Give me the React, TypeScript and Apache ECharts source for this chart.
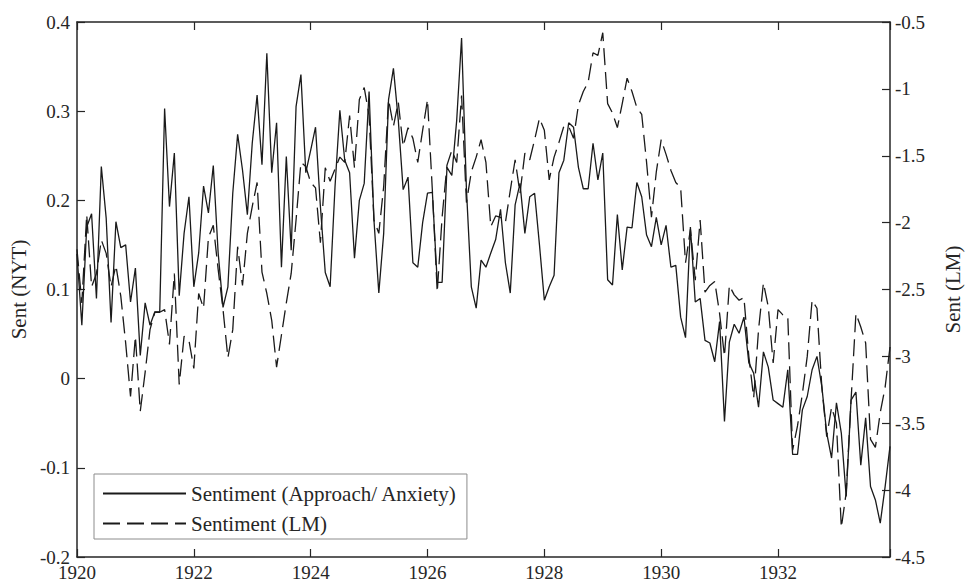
import React, { useEffect, useRef } from "react";
import * as echarts from "echarts";

const START_YEAR = 1920;
const X_TICKS = [1920, 1922, 1924, 1926, 1928, 1930, 1932];

// Monthly sentiment, Jan 1920 .. Dec 1933 (NYT Approach/Anxiety, left axis)
const sentNYT: number[] = [
  0.14, 0.06, 0.17, 0.185, 0.09, 0.238, 0.18, 0.063, 0.176, 0.147, 0.15, 0.086,
  0.124, 0.026, 0.085, 0.06, 0.075, 0.075, 0.303, 0.193, 0.253, 0.093, 0.163, 0.204,
  0.103, 0.141, 0.216, 0.186, 0.239, 0.141, 0.08, 0.103, 0.208, 0.274, 0.234, 0.184,
  0.264, 0.318, 0.24, 0.365, 0.231, 0.287, 0.125, 0.249, 0.144, 0.305, 0.341, 0.231,
  0.256, 0.282, 0.193, 0.119, 0.103, 0.215, 0.301, 0.245, 0.231, 0.135, 0.2, 0.219,
  0.322, 0.178, 0.096, 0.163, 0.313, 0.348, 0.29, 0.212, 0.226, 0.13, 0.125, 0.175,
  0.208, 0.209, 0.108, 0.108, 0.237, 0.228, 0.29, 0.382, 0.212, 0.103, 0.079, 0.133,
  0.125, 0.141, 0.156, 0.19, 0.13, 0.096, 0.195, 0.219, 0.163, 0.204, 0.208, 0.15,
  0.088, 0.103, 0.116, 0.231, 0.245, 0.287, 0.282, 0.237, 0.213, 0.213, 0.264, 0.223,
  0.253, 0.111, 0.105, 0.184, 0.122, 0.17, 0.169, 0.22, 0.204, 0.161, 0.148, 0.181,
  0.15, 0.172, 0.125, 0.127, 0.069, 0.046, 0.17, 0.086, 0.09, 0.043, 0.04, 0.019,
  0.064, -0.048, 0.041, 0.061, 0.051, 0.069, 0.018, 0.006, -0.032, 0.03, 0.013, -0.024,
  -0.028, -0.032, 0.01, -0.085, -0.085, -0.035, -0.02, 0.01, 0.025, -0.009, -0.061, -0.089,
  -0.027, -0.061, -0.132, -0.024, -0.015, -0.097, -0.044, -0.121, -0.136, -0.162, -0.121, -0.076,
];

// Monthly sentiment (LM), right axis
const sentLM: number[] = [
  -2.2, -2.6, -1.94, -2.48, -2.38, -2.13, -2.23, -2.48, -2.32, -2.55, -2.9, -3.3,
  -2.85, -3.41, -3.12, -2.8, -2.67, -2.67, -2.65, -2.91, -2.38, -3.21, -2.85, -2.88,
  -3.09, -2.53, -2.64, -2.11, -2.02, -2.35, -2.65, -3.01, -2.8, -2.18, -2.47, -2.08,
  -1.88, -1.7, -2.37, -2.53, -2.73, -3.08, -2.84, -2.6, -2.38, -1.98, -1.55, -1.58,
  -1.7, -1.74, -2.15, -1.59, -1.69, -1.6, -1.51, -1.55, -1.2, -1.59, -1.08, -0.99,
  -1.2, -1.98, -2.08, -1.73, -1.08, -1.28, -1.1, -1.43, -1.29, -1.37, -1.55, -1.31,
  -1.08, -1.76, -2.52, -1.96, -1.57, -1.46, -1.55, -1.05, -1.85, -1.62, -1.51, -1.38,
  -1.55, -2.03, -1.95, -1.96, -2.0, -1.76, -1.53, -1.78, -1.48, -1.53, -1.38, -1.22,
  -1.31, -1.68, -1.51, -1.4, -1.28, -1.28, -1.37, -1.12, -1.02, -0.95, -0.73, -0.75,
  -0.58, -1.11, -1.18, -1.29, -1.11, -0.92, -1.02, -1.14, -1.19, -1.55, -1.96, -1.62,
  -1.38, -1.49, -1.61, -1.7, -1.74, -2.3, -2.05, -2.43, -1.98, -2.52, -2.47, -2.44,
  -2.68, -3.0, -2.47, -2.54, -2.58, -2.56, -3.0, -3.31, -2.8, -2.45, -2.63, -3.05,
  -2.65, -2.69, -2.7, -3.7, -3.52, -3.28, -3.0, -2.58, -2.64, -3.23, -3.6, -3.38,
  -3.5, -4.28, -4.02, -3.33, -2.68, -2.78, -2.9, -3.62, -3.68, -3.42, -3.23, -2.93,
];

const SERIES_NAMES = ["Sentiment (Approach/ Anxiety)", "Sentiment (LM)"];

const FONT = "'Liberation Serif', 'Times New Roman', serif";
const INK = "#262626";

export default function App() {
  const ref = useRef<HTMLDivElement>(null);

  useEffect(() => {
    if (!ref.current) return;
    const chart = echarts.init(ref.current, undefined, { renderer: "svg" });
    const toPairs = (arr: number[]) => arr.map((v, i) => [START_YEAR + i / 12, v]);
    const xMax = START_YEAR + (sentNYT.length - 1) / 12;

    const axisLine = { show: true, onZero: false, lineStyle: { color: INK, width: 1.5 } };
    const tick = { show: true, inside: true, length: 8, lineStyle: { color: INK, width: 1.2 } };
    const labelBase = { fontFamily: FONT, fontSize: 19, color: INK };

    chart.setOption({
      animation: false,
      backgroundColor: "#ffffff",
      grid: { left: 74, right: 66, top: 22, bottom: 25, containLabel: false },
      xAxis: [
        {
          type: "value",
          position: "bottom",
          min: START_YEAR,
          max: xMax,
          interval: 2,
          axisLine,
          axisTick: tick,
          splitLine: { show: false },
          axisLabel: {
            ...labelBase,
            margin: 6,
            formatter: (v: number) => (X_TICKS.indexOf(Math.round(v * 1000) / 1000) >= 0 ? String(v) : ""),
          },
        },
        {
          type: "value",
          position: "top",
          min: START_YEAR,
          max: xMax,
          interval: 2,
          axisLine,
          axisTick: tick,
          splitLine: { show: false },
          axisLabel: { show: false },
        },
      ],
      yAxis: [
        {
          type: "value",
          position: "left",
          min: -0.2,
          max: 0.4,
          interval: 0.1,
          name: "Sent (NYT)",
          nameLocation: "middle",
          nameGap: 44,
          nameRotate: 90,
          nameTextStyle: { fontFamily: FONT, fontSize: 21, color: INK },
          axisLine,
          axisTick: tick,
          splitLine: { show: false },
          axisLabel: {
            ...labelBase,
            margin: 7,
            formatter: (v: number) => String(Number(v.toFixed(1))),
          },
        },
        {
          type: "value",
          position: "right",
          min: -4.5,
          max: -0.5,
          interval: 0.5,
          name: "Sent (LM)",
          nameLocation: "middle",
          nameGap: 52,
          nameRotate: 90,
          nameTextStyle: { fontFamily: FONT, fontSize: 21, color: INK },
          axisLine,
          axisTick: tick,
          splitLine: { show: false },
          axisLabel: {
            ...labelBase,
            margin: 5,
            formatter: (v: number) => String(Number(v.toFixed(1))),
          },
        },
      ],
      legend: {
        orient: "vertical",
        left: 94,
        top: 474,
        backgroundColor: "#ffffff",
        borderColor: "#8c8c8c",
        borderWidth: 1,
        borderRadius: 0,
        padding: [9, 10, 5, 8],
        itemGap: 9,
        itemWidth: 83,
        itemHeight: 14,
        itemStyle: { opacity: 0 },
        data: SERIES_NAMES,
        textStyle: { fontFamily: FONT, fontSize: 21, color: INK, lineHeight: 20 },
      },
      series: [
        {
          name: SERIES_NAMES[0],
          type: "line",
          xAxisIndex: 0,
          yAxisIndex: 0,
          data: toPairs(sentNYT),
          symbol: "none",
          showSymbol: false,
          lineStyle: { color: "#1a1a1a", width: 1.3, type: "solid" },
          itemStyle: { color: "#1a1a1a" },
        },
        {
          name: SERIES_NAMES[1],
          type: "line",
          xAxisIndex: 0,
          yAxisIndex: 1,
          data: toPairs(sentLM),
          symbol: "none",
          showSymbol: false,
          lineStyle: { color: "#1a1a1a", width: 1.3, type: [17, 7] },
          itemStyle: { color: "#1a1a1a" },
        },
      ],
    });
    return () => chart.dispose();
  }, []);

  return (
    <div
      ref={ref}
      style={{ position: "fixed", left: 0, top: 0, width: 971, height: 582, background: "#fff" }}
    />
  );
}
